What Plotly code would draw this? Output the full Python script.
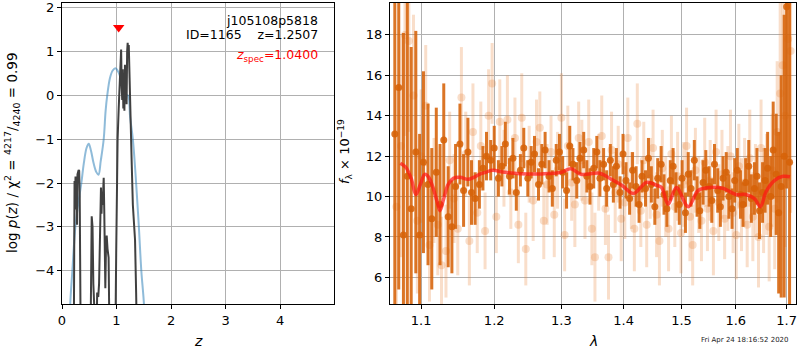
import plotly.graph_objects as go

# ---------------- redshift probability panel ----------------
z_pz = [0.13, 0.15, 0.19, 0.245, 0.30, 0.355, 0.40, 0.45, 0.49, 0.53, 0.58, 0.63, 0.67,
        0.71, 0.765, 0.80, 0.83, 0.88, 0.93, 0.98, 1.04, 1.10, 1.16, 1.21, 1.25, 1.30,
        1.36, 1.41, 1.455, 1.505, 1.53]
logpz_template = [-6.0, -4.8, -4.0, -3.0, -2.45, -2.0, -1.55, -1.2, -1.1, -1.25, -1.55,
                  -1.75, -1.81, -1.5, -1.0, -0.35, 0.0, 0.4, 0.57, 0.62, 0.52, 0.28,
                  0.02, 0.0, -0.5, -1.0, -2.0, -3.0, -4.0, -4.8, -6.0]

z_chi = [0.215, 0.230, 0.240, 0.248, 0.258, 0.266, 0.276, 0.284, 0.295, 0.305, 0.315,
         0.325, 0.345,
         0.52, 0.545, 0.56, 0.575, 0.585, 0.60,
         0.63, 0.645, 0.665, 0.68, 0.695, 0.705, 0.715, 0.725, 0.735, 0.745, 0.755,
         0.765, 0.775, 0.785, 0.795, 0.805, 0.82, 0.835, 0.855, 0.875,
         0.975, 0.995, 1.005, 1.02, 1.04, 1.06, 1.075, 1.085, 1.095, 1.105, 1.115,
         1.125, 1.135, 1.145, 1.155, 1.165, 1.175, 1.185, 1.195, 1.205, 1.215, 1.225,
         1.24, 1.26, 1.28, 1.30, 1.32, 1.34, 1.36, 1.38]
logpz_chi = [-6.0, -1.95, -2.3, -1.85, -2.6, -1.9, -2.95, -1.8, -1.75, -1.7, -1.72,
             -2.3, -6.0,
             -6.0, -2.76, -3.0, -4.3, -4.6, -6.0,
             -6.0, -4.5, -4.6, -4.3, -3.0, -2.6, -2.1, -2.7, -2.2, -2.5, -2.0,
             -1.88, -2.6, -3.4, -4.4, -3.6, -3.2, -3.5, -3.7, -6.0,
             -6.0, -3.5, -1.9, -1.0, -0.3, 0.4, 0.95, 1.05, 0.2, -0.1, 0.6,
             -0.3, 0.35, -0.35, 0.7, 0.2, 0.6, -0.2, 1.0, 1.2, 0.9, 1.15,
             0.4, -0.9, -1.6, -2.5, -3.0, -3.3, -4.5, -6.0]

z_spec = [1.04]
z_spec_marker_y = [1.55]

# ---------------- 1D spectrum panel ----------------
wave_a = [1.066, 1.071, 1.077, 1.082, 1.087, 1.093, 1.098, 1.103, 1.109, 1.114,
          1.120, 1.125, 1.130, 1.136, 1.141, 1.146, 1.152, 1.157, 1.163, 1.168,
          1.173, 1.179, 1.184, 1.189, 1.195, 1.200, 1.206, 1.211, 1.216, 1.222,
          1.227, 1.232, 1.238, 1.243, 1.249, 1.254, 1.259, 1.265, 1.270, 1.275,
          1.281, 1.286, 1.292, 1.297, 1.302, 1.308, 1.313, 1.318, 1.324, 1.329,
          1.335, 1.340, 1.345, 1.351, 1.356, 1.361, 1.367, 1.372, 1.378, 1.383,
          1.388, 1.394, 1.399, 1.404, 1.410, 1.415, 1.421, 1.426, 1.431, 1.437,
          1.442, 1.447, 1.453, 1.458, 1.464, 1.469, 1.474, 1.480, 1.485, 1.490,
          1.496, 1.501, 1.507, 1.512, 1.517, 1.523, 1.528, 1.533, 1.539, 1.544,
          1.550, 1.555, 1.560, 1.566, 1.571, 1.576, 1.582, 1.587, 1.593, 1.598,
          1.603, 1.609, 1.614, 1.619, 1.625, 1.630, 1.636, 1.641, 1.646, 1.652,
          1.657, 1.662, 1.668, 1.673, 1.679, 1.684, 1.689, 1.695, 1.700, 1.706]
flux_a = [13.1, 15.4, 8.1, 11.0, 9.4, 12.2, 8.1, 11.7, 10.6, 8.9,
          11.2, 9.6, 12.8, 9.0, 8.5, 10.5, 12.6, 10.3, 12.2, 10.2,
          9.9, 10.6, 11.4, 12.0, 11.8, 12.4, 10.9, 11.5, 12.6, 11.0,
          11.9, 10.2, 11.3, 12.4, 10.9, 11.7, 12.1, 10.6, 11.6, 12.3,
          11.0, 10.4, 11.8, 12.2, 11.2, 10.3, 12.5, 11.6, 10.8, 11.9,
          12.3, 11.0, 10.5, 11.4, 12.2, 10.9, 11.6, 10.4, 11.8, 10.6,
          11.5, 10.2, 12.1, 10.8, 9.9, 11.3, 10.5, 9.6, 11.0, 10.4,
          11.9, 10.6, 9.5, 10.9, 11.6, 10.1, 9.4, 10.8, 11.5, 10.2,
          9.6, 10.9, 9.2, 11.1, 10.4, 11.8, 10.0, 9.3, 10.7, 11.3,
          10.5, 9.8, 11.6, 10.3, 9.5, 10.9, 11.2, 10.0, 9.4, 10.8,
          11.3, 10.1, 9.6, 10.7, 11.5, 9.9, 10.4, 11.0, 9.3, 10.2,
          10.8, 11.4, 10.0, 12.3, 11.1, 9.2, 10.5, 12.0, 19.4, 11.7]
err_a = [10.0, 10.0, 10.0, 9.0, 8.0, 6.0, 5.0, 4.5, 4.0, 3.5,
         3.2, 3.0, 2.8, 2.5, 2.3, 2.1, 2.0, 1.8, 1.7, 1.6,
         1.3, 1.2, 1.1, 1.2, 1.0, 1.1, 0.9, 1.0, 1.1, 0.9,
         1.0, 0.9, 0.8, 1.0, 0.9, 0.8, 0.9, 0.8, 1.0, 0.9,
         0.8, 0.9, 0.8, 0.9, 0.8, 0.9, 1.0, 0.8, 0.9, 0.8,
         0.9, 0.8, 0.9, 1.0, 0.8, 0.9, 0.8, 0.9, 0.8, 0.9,
         0.9, 0.8, 1.0, 0.9, 0.8, 0.9, 1.0, 0.9, 0.8, 0.9,
         1.0, 0.9, 0.9, 1.0, 0.9, 1.0, 0.9, 1.0, 0.9, 1.0,
         1.0, 0.9, 1.0, 1.1, 0.9, 1.0, 1.0, 0.9, 1.1, 1.0,
         1.0, 1.1, 1.0, 1.1, 1.0, 1.1, 1.0, 1.1, 1.0, 1.1,
         1.1, 1.2, 1.1, 1.2, 1.3, 1.2, 1.3, 1.4, 1.4, 1.5,
         1.6, 1.8, 2.0, 2.4, 3.0, 4.0, 5.5, 7.0, 9.0, 10.0]

wave_b = [1.068, 1.074, 1.079, 1.084, 1.090, 1.095, 1.100, 1.106, 1.111, 1.117,
          1.122, 1.127, 1.133, 1.138, 1.144, 1.149, 1.154, 1.160, 1.165, 1.170,
          1.176, 1.181, 1.187, 1.192, 1.197, 1.203, 1.208, 1.214, 1.219, 1.224,
          1.230, 1.235, 1.240, 1.246, 1.251, 1.257, 1.262, 1.267, 1.273, 1.278,
          1.284, 1.289, 1.294, 1.300, 1.305, 1.310, 1.316, 1.321, 1.327, 1.332,
          1.337, 1.343, 1.348, 1.353, 1.359, 1.364, 1.370, 1.375, 1.380, 1.386,
          1.391, 1.396, 1.402, 1.407, 1.413, 1.418, 1.423, 1.429, 1.434, 1.439,
          1.445, 1.450, 1.456, 1.461, 1.466, 1.472, 1.477, 1.482, 1.488, 1.493,
          1.499, 1.504, 1.509, 1.515, 1.520, 1.525, 1.531, 1.536, 1.542, 1.547,
          1.552, 1.558, 1.563, 1.568, 1.574, 1.579, 1.585, 1.590, 1.595, 1.601,
          1.606, 1.611, 1.617, 1.622, 1.627, 1.633, 1.638, 1.644, 1.649, 1.654,
          1.660, 1.665, 1.671, 1.676, 1.681, 1.687, 1.692, 1.697, 1.703, 1.708]
flux_b = [9.5, 12.5, 18.0, 17.7, 15.0, 8.8, 12.0, 14.5, 7.6, 10.3,
          8.6, 6.6, 7.3, 11.8, 9.9, 8.4, 14.9, 12.1, 7.8, 13.2,
          9.2, 12.5, 8.3, 14.0, 15.6, 9.0, 13.7, 11.4, 13.8, 10.2,
          12.9, 8.6, 13.9, 7.4, 11.6, 9.8, 12.7, 13.4, 8.8, 10.6,
          12.2, 9.1, 11.3, 13.9, 8.1, 12.5, 10.7, 9.6, 12.9, 11.8,
          9.8, 12.7, 8.4, 7.0, 11.2, 13.0, 9.4, 7.0, 12.3, 10.2,
          11.6, 8.9, 9.7, 12.9, 10.3, 8.4, 13.6, 9.3, 11.8, 8.6,
          10.9, 12.4, 9.1, 7.8, 11.4, 10.0, 8.4, 12.1, 9.5, 11.0,
          8.2, 10.6, 12.5, 9.0, 7.6, 11.3, 10.1, 8.8, 11.7, 9.4,
          10.8, 8.3, 12.2, 9.7, 11.1, 8.9, 10.4, 12.0, 9.2, 8.1,
          11.5, 9.6, 10.7, 8.6, 11.9, 9.0, 10.3, 8.0, 12.4, 9.8,
          10.6, 8.5, 11.3, 9.4, 13.2, 15.1, 16.5, 14.0, 17.8, 17.2]
err_b = [6.0, 5.5, 5.0, 4.5, 4.0, 3.6, 3.3, 3.0, 2.8, 2.6,
         2.5, 2.4, 2.3, 2.4, 2.2, 2.3, 2.5, 2.1, 2.2, 2.4,
         2.0, 2.2, 1.9, 2.3, 2.0, 1.8, 2.1, 1.9, 2.2, 1.8,
         2.0, 1.9, 2.2, 1.8, 1.9, 2.0, 2.1, 1.8, 1.9, 2.0,
         1.8, 2.1, 1.9, 2.2, 1.8, 2.0, 1.9, 2.1, 1.8, 2.0,
         1.9, 2.1, 1.8, 2.2, 1.9, 2.0, 1.8, 2.1, 1.9, 2.0,
         1.9, 2.1, 1.8, 2.0, 1.9, 2.1, 2.0, 1.8, 1.9, 2.1,
         2.0, 1.9, 2.1, 2.2, 1.9, 2.0, 2.1, 1.9, 2.0, 2.2,
         2.0, 2.1, 1.9, 2.2, 2.0, 2.1, 1.9, 2.0, 2.2, 2.1,
         2.0, 2.2, 2.1, 1.9, 2.2, 2.0, 2.1, 2.3, 2.0, 2.2,
         2.1, 2.3, 2.2, 2.1, 2.4, 2.2, 2.3, 2.5, 2.4, 2.6,
         2.5, 2.7, 2.8, 3.0, 3.5, 4.5, 5.5, 6.5, 7.0, 8.0]

wave_model = [1.073, 1.080, 1.087, 1.093, 1.099, 1.1046, 1.110, 1.116, 1.121, 1.125,
              1.130, 1.136, 1.143, 1.152, 1.1632, 1.171, 1.179, 1.188, 1.197, 1.215,
              1.2385, 1.2698, 1.300, 1.3146, 1.3308, 1.3604, 1.380, 1.397, 1.4164,
              1.4388, 1.4557, 1.4647, 1.4762, 1.4908, 1.512, 1.530, 1.5525, 1.577,
              1.600, 1.619, 1.636, 1.6475, 1.659, 1.676, 1.693, 1.7068]
flux_model = [11.65, 11.45, 10.9, 10.1, 10.6, 11.1, 10.95, 10.4, 9.75, 9.3,
              9.9, 10.6, 10.9, 10.95, 10.85, 10.95, 11.1, 11.2, 11.3, 11.2,
              11.13, 11.12, 11.2, 11.38, 11.1, 11.15, 10.85, 10.56, 10.15,
              10.7, 10.56, 10.45, 9.62, 10.45, 9.5, 10.3, 10.45, 10.4,
              10.1, 10.1, 9.9, 9.5, 10.25, 10.8, 11.0, 10.98]

x_ticks_wave = [1.1, 1.2, 1.3, 1.4, 1.5, 1.6, 1.7]
x_ticklabels_wave = ["1.1", "1.2", "1.3", "1.4", "1.5", "1.6", "1.7"]

ORANGE_DARK = "rgba(214,98,8,0.88)"
ORANGE_LIGHT = "rgba(230,125,45,0.25)"
BLUE_PZ = "rgba(31,119,180,0.5)"
GRID = "#b0b0b0"

fig = go.Figure()

fig.add_trace(go.Scatter(x=z_pz, y=logpz_template, mode="lines", line_shape="spline",
                         line=dict(color=BLUE_PZ, width=2), xaxis="x", yaxis="y",
                         showlegend=False, hoverinfo="skip"))
fig.add_trace(go.Scatter(x=z_chi, y=logpz_chi, mode="lines",
                         line=dict(color="#404040", width=2), xaxis="x", yaxis="y",
                         showlegend=False, hoverinfo="skip"))
fig.add_trace(go.Scatter(x=z_spec, y=z_spec_marker_y, mode="markers",
                         marker=dict(symbol="triangle-down", color="red", size=10,
                                     line=dict(width=0)),
                         xaxis="x", yaxis="y", showlegend=False, cliponaxis=False))

fig.add_trace(go.Scatter(x=wave_b, y=flux_b, mode="markers",
                         marker=dict(color=ORANGE_LIGHT, size=8, line=dict(width=0)),
                         error_y=dict(type="data", array=err_b, visible=True,
                                      thickness=3, width=0, color=ORANGE_LIGHT),
                         xaxis="x2", yaxis="y2", showlegend=False, cliponaxis=True))
fig.add_trace(go.Scatter(x=wave_a, y=flux_a, mode="markers",
                         marker=dict(color=ORANGE_DARK, size=7, line=dict(width=0)),
                         error_y=dict(type="data", array=err_a, visible=True,
                                      thickness=3, width=0, color=ORANGE_DARK),
                         xaxis="x2", yaxis="y2", showlegend=False, cliponaxis=True))
fig.add_trace(go.Scatter(x=wave_model, y=flux_model, mode="lines", line_shape="spline",
                         line=dict(color="rgba(255,20,20,0.7)", width=3.5),
                         xaxis="x2", yaxis="y2", showlegend=False))

axis_common = dict(showline=True, mirror=True, linecolor="black", linewidth=1.2,
                   ticks="outside", ticklen=4, tickwidth=1, tickcolor="black",
                   showgrid=True, gridcolor=GRID, gridwidth=1, zeroline=False,
                   automargin=False, tickfont=dict(size=13, color="black"))

fig.update_layout(
    width=800, height=350,
    margin=dict(l=0, r=0, t=0, b=0, autoexpand=False),
    paper_bgcolor="white", plot_bgcolor="white",
    font=dict(family="DejaVu Sans", size=13, color="black"),
    xaxis=dict(domain=[0.0775, 0.4175], range=[0, 4.99], tickvals=[0, 1, 2, 3, 4],
               anchor="y", **axis_common),
    yaxis=dict(domain=[0.1314, 0.9914], range=[-4.76, 2.11], tickvals=[-4, -3, -2, -1, 0, 1, 2],
               anchor="x", **axis_common),
    xaxis2=dict(domain=[0.4875, 0.995], type="log", range=[0.02527, 0.2353],
                tickvals=x_ticks_wave, ticktext=x_ticklabels_wave, anchor="y2", **axis_common),
    yaxis2=dict(domain=[0.1314, 0.9914], range=[4.68, 19.58],
                tickvals=[6, 8, 10, 12, 14, 16, 18], anchor="x2", **axis_common),
)

ann = [
    dict(text="j105108p5818", x=320 / 800, y=1 - 20 / 350, xanchor="right", yanchor="middle",
         font=dict(size=12.5, color="black")),
    dict(text="ID=1165\u00a0\u00a0\u00a0\u00a0z=1.2507", x=320 / 800, y=1 - 35 / 350,
         xanchor="right", yanchor="middle", font=dict(size=12.5, color="black")),
    dict(text="<i>z</i><sub>spec</sub>=1.0400", x=320 / 800, y=1 - 55 / 350,
         xanchor="right", yanchor="middle", font=dict(size=12.5, color="red")),
    dict(text="log <i>p</i>(<i>z</i>) / χ<sup>2</sup> = <sup>4217</sup>/<sub>4240</sub> = 0.99",
         x=12 / 800, y=1 - 153 / 350, textangle=-90, xanchor="center", yanchor="middle",
         font=dict(size=13.5, color="black")),
    dict(text="<i>f</i><sub>λ</sub> × 10<sup>−19</sup>", x=345 / 800, y=1 - 152 / 350,
         textangle=-90, xanchor="center", yanchor="middle", font=dict(size=13, color="black")),
    dict(text="<i>z</i>", x=198 / 800, y=1 - 341 / 350, xanchor="center", yanchor="middle",
         font=dict(size=14, color="black")),
    dict(text="<i>λ</i>", x=593 / 800, y=1 - 341 / 350, xanchor="center", yanchor="middle",
         font=dict(size=14, color="black")),
    dict(text="Fri Apr 24 18:16:52 2020", x=745 / 800, y=1 - 340 / 350, xanchor="center",
         yanchor="middle", font=dict(size=7, color="#222222")),
]
for a in ann:
    a.update(xref="paper", yref="paper", showarrow=False)
fig.update_layout(annotations=ann)

fig.write_html("out.html")
